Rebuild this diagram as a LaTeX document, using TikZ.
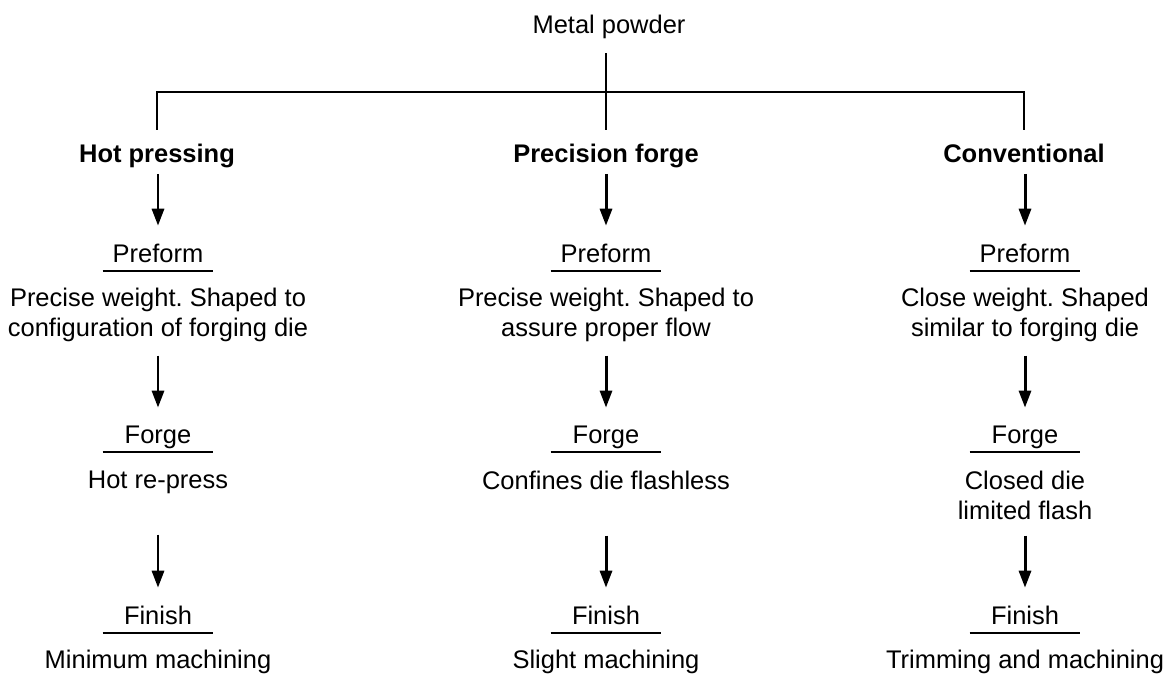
\documentclass[tikz,border=0pt]{standalone}
\usepackage{fontspec}
\setmainfont{Liberation Sans}
\usetikzlibrary{positioning,arrows.meta}
\frenchspacing
\tikzset{
  every node/.style={font=\fontsize{14.5pt}{17.1pt}\selectfont},
  bar/.style={line width=1.6pt},
  flow/.style={-{Triangle[length=3.4mm,width=2.4mm]},line width=1.7pt,shorten >=1.7mm},
  rule/.style={line width=1.1pt},
  headbox/.style={anchor=base,inner sep=1mm,text depth=1.3mm,
    font=\fontsize{14.5pt}{17.1pt}\selectfont\bfseries},
  stagebox/.style={anchor=base,inner xsep=0pt,inner ysep=1.8mm,text depth=0pt,
    minimum width=2.2cm},
  textbox/.style={anchor=north,inner sep=0pt,align=center,text depth=1.1mm}
}

\begin{document}
\begin{tikzpicture}[x=0.02cm,y=-0.02cm]
  \useasboundingbox (0,0) rectangle (1170,674);
  \node[anchor=base,inner sep=0pt] (powder) at (609,33) {Metal powder};
  \node[headbox] (hot) at (157,162) {Hot pressing};
  \node[headbox] (prec) at (606,162) {Precision forge};
  \node[headbox] (conv) at (1024,162) {Conventional};
  \coordinate (junc) at (606,92);
  \draw[bar,shorten <=2.9mm,shorten >=1.7mm] (powder.south -| junc) -- (prec.north);
  \draw[bar,shorten <=1.7mm,shorten >=1.7mm] (hot.north) |- (junc) -| (conv.north);

  \node[stagebox] (pre1) at (158,262) {Preform};
  \node[stagebox] (pre2) at (606,262) {Preform};
  \node[stagebox] (pre3) at (1025,262) {Preform};
  \node[textbox] (pretxt1) at (158,287.5) {Precise weight. Shaped to\\configuration of forging die};
  \node[textbox] (pretxt2) at (606,287.5) {Precise weight. Shaped to\\assure proper flow};
  \node[textbox] (pretxt3) at (1025,287.5) {Close weight. Shaped\\similar to forging die};

  \node[stagebox] (frg1) at (158,443) {Forge};
  \node[stagebox] (frg2) at (606,443) {Forge};
  \node[stagebox] (frg3) at (1025,443) {Forge};
  \node[textbox] (frgtxt1) at (158,470.5) {Hot re-press};
  \node[textbox] (frgtxt2) at (606,470.5) {Confines die flashless};
  \node[textbox] (frgtxt3) at (1025,470.5) {Closed die\\limited flash};

  \node[stagebox] (fin1) at (158,624) {Finish};
  \node[stagebox] (fin2) at (606,624) {Finish};
  \node[stagebox] (fin3) at (1025,624) {Finish};
  \node[textbox] (fintxt1) at (158,649.5) {Minimum machining};
  \node[textbox] (fintxt2) at (606,649.5) {Slight machining};
  \node[textbox] (fintxt3) at (1025,649.5) {Trimming and machining};

  \foreach \n in {pre1,pre2,pre3,frg1,frg2,frg3,fin1,fin2,fin3}
    \draw[rule] (\n.south west) -- (\n.south east);

  \draw[flow] (hot.south -| pre1) -- (pre1);
  \draw[flow] (prec) -- (pre2);
  \draw[flow] (conv.south -| pre3) -- (pre3);
  \draw[flow,shorten <=2.7mm] (pretxt1) -- (frg1);
  \draw[flow,shorten <=2.7mm] (pretxt2) -- (frg2);
  \draw[flow,shorten <=2.7mm] (pretxt3) -- (frg3);
  \draw[flow,shorten <=8.1mm] (frgtxt1) -- (fin1);
  \draw[flow,shorten <=8.1mm] (frgtxt2) -- (fin2);
  \draw[flow,shorten <=2.1mm] (frgtxt3) -- (fin3);
\end{tikzpicture}
\end{document}
